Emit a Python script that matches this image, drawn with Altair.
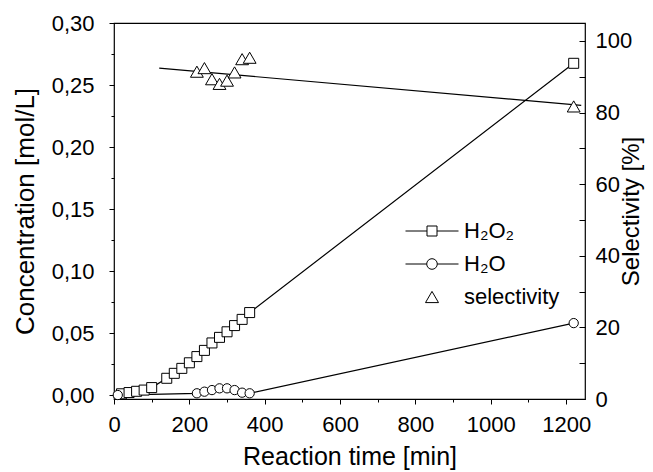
import altair as alt
import pandas as pd

# ---- data ----
h2o2_t = [20, 40, 60, 80, 100, 140, 160, 180, 200, 220, 240, 260, 280, 300, 320, 340, 360, 1220]
h2o2_c = [0.001, 0.002, 0.003, 0.004, 0.006, 0.0135, 0.0175, 0.0215, 0.026, 0.031, 0.036,
          0.042, 0.0465, 0.051, 0.056, 0.061, 0.0665, 0.2675]
h2o_t = [10, 220, 240, 260, 280, 300, 320, 340, 360, 1220]
h2o_c = [0.0, 0.0014, 0.0027, 0.004, 0.0054, 0.0054, 0.004, 0.0019, 0.0014, 0.058]
sel_t = [220, 240, 260, 280, 300, 320, 340, 360, 1220]
sel_v = [91.4, 92.4, 89.3, 88.0, 88.9, 91.2, 94.9, 95.3, 81.7]
fit_t = [120, 1240]
fit_v = [92.4, 82.0]

legend_names = ["H\u2082O\u2082", "H\u2082O", "selectivity"]
x_ticks = list(range(0, 1201, 100))
left_ticks = [round(i * 0.025, 3) for i in range(13)]
right_ticks = list(range(0, 101, 10))

FONT = "Liberation Sans"

df_h2o2 = pd.DataFrame({"t": h2o2_t, "c": h2o2_c})
df_h2o = pd.DataFrame({"t": h2o_t, "c": h2o_c})
df_sel = pd.DataFrame({"t": sel_t, "s": sel_v})
df_fit = pd.DataFrame({"t": fit_t, "s": fit_v})
df_leg = pd.DataFrame({"series": legend_names})

x_enc = alt.X(
    "t:Q",
    scale=alt.Scale(domain=[0, 1250], nice=False, zero=False),
    title="Reaction time [min]",
    axis=alt.Axis(
        values=x_ticks,
        labelExpr="datum.value % 200 == 0 ? format(datum.value, 'd') : ''",
        tickSize={"condition": {"test": "datum.value % 200 == 0", "value": 5}, "value": 3},
        labelPadding=10,
        titlePadding=9,
        grid=False,
        domain=False,
        labelFlush=False,
        labelOverlap=False,
    ),
)

y_conc = alt.Y(
    "c:Q",
    scale=alt.Scale(domain=[-0.0032, 0.30], nice=False, zero=False),
    title="Concentration [mol/L]",
    axis=alt.Axis(
        orient="left",
        values=left_ticks,
        labelExpr="round(datum.value * 40) % 2 == 0 ? replace(format(datum.value, '.2f'), '.', ',') : ''",
        tickSize={"condition": {"test": "round(datum.value * 40) % 2 == 0", "value": 5}, "value": 3},
        labelPadding=15,
        titlePadding=13,
        grid=False,
        domain=False,
        labelFlush=False,
        labelOverlap=False,
        titleFontSize=26,
    ),
)

y_sel = alt.Y(
    "s:Q",
    scale=alt.Scale(domain=[0, 105], nice=False, zero=False),
    title="Selectivity [%]",
    axis=alt.Axis(
        orient="right",
        values=right_ticks,
        labelExpr="datum.value % 20 == 0 ? format(datum.value, 'd') : ''",
        tickSize=6,
        offset=-6,
        labelPadding=10,
        titlePadding=-12,
        titleAngle=270,
        titleBaseline="top",
        grid=False,
        domain=False,
        labelFlush=False,
        labelOverlap=False,
        titleFontSize=24,
    ),
)

line_h2o2 = alt.Chart(df_h2o2).mark_line(color="black", strokeWidth=1.2).encode(x=x_enc, y=y_conc)
line_h2o = alt.Chart(df_h2o).mark_line(color="black", strokeWidth=1.2).encode(x=x_enc, y=y_conc)
pts_h2o2 = alt.Chart(df_h2o2).mark_point(
    shape="square", size=100, filled=True, fill="white", stroke="black", strokeWidth=1, opacity=1
).encode(x=x_enc, y=y_conc)
pts_h2o = alt.Chart(df_h2o).mark_point(
    shape="circle", size=86, filled=True, fill="white", stroke="black", strokeWidth=1, opacity=1
).encode(x=x_enc, y=y_conc)

conc = alt.layer(line_h2o2, line_h2o, pts_h2o2, pts_h2o)

fit_line = alt.Chart(df_fit).mark_line(color="black", strokeWidth=1.2).encode(x=x_enc, y=y_sel)
pts_sel = alt.Chart(df_sel).mark_point(
    shape="triangle-up", size=165, filled=True, fill="white", stroke="black", strokeWidth=1, opacity=1
).encode(x=x_enc, y=y_sel)

sel = alt.layer(fit_line, pts_sel)

# legend symbols (line + marker), unit = 10 px for symbolSize 400
sym_paths = [
    "M-2.65,0H-0.5M0.5,0H2.65M-0.5,-0.5H0.5V0.5H-0.5Z",
    "M-2.65,0H-0.53M0.53,0H2.65M-0.53,0A0.53,0.53,0,1,1,0.53,0A0.53,0.53,0,1,1,-0.53,0Z",
    "M0,-0.56L0.65,0.56L-0.65,0.56Z",
]

legend_layer = alt.Chart(df_leg).mark_point(
    size=400, filled=False, color="black", strokeWidth=1, opacity=1, clip=True
).encode(
    x=alt.value(-500),
    y=alt.value(-500),
    shape=alt.Shape(
        "series:N",
        scale=alt.Scale(domain=legend_names, range=sym_paths),
        legend=alt.Legend(
            orient="none",
            legendX=307,
            legendY=197,
            title=None,
            labelFont=FONT,
            labelFontSize=22,
            labelColor="black",
            labelOffset=21,
            rowPadding=11,
            symbolSize=400,
            symbolStrokeWidth=1,
            symbolStrokeColor="black",
            symbolOpacity=1,
            padding=0,
        ),
    ),
)

chart = (
    alt.layer(conc, sel, legend_layer)
    .resolve_scale(y="independent")
    .properties(
        width=471,
        height=376,
        autosize=alt.AutoSizeParams(type="none"),
        padding={"left": 106, "top": 15, "right": 60, "bottom": 72},
        background="white",
    )
    .configure_view(stroke="black", strokeWidth=1.2)
    .configure_axis(
        labelFont=FONT,
        labelFontSize=22,
        labelColor="black",
        titleFont=FONT,
        titleFontSize=25,
        titleFontWeight="normal",
        titleColor="black",
        tickColor="black",
        tickWidth=1,
    )
)

chart.save("out.html", embed_options={"renderer": "svg", "actions": False})
